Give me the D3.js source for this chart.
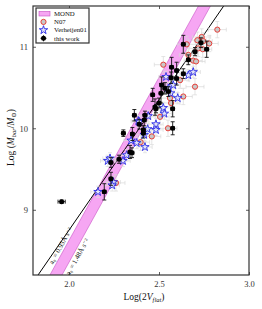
<!DOCTYPE html>
<html>
<head>
<meta charset="utf-8">
<script src="https://cdn.jsdelivr.net/npm/d3@7"></script>
<style>
  body { margin: 0; background: #fff; }
  svg text { font-family: "Liberation Serif", "DejaVu Serif", serif; }
</style>
</head>
<body>
<div id="content"></div>
<script>
// x = log(2 Vflat), y = log(Mbar / Msun)
var workX  = [1.959, 2.196, 2.233, 2.233, 2.278, 2.302, 2.339, 2.352, 2.350, 2.363, 2.390, 2.413, 2.413, 2.418, 2.422, 2.465, 2.478, 2.483, 2.500, 2.511, 2.515, 2.533, 2.552, 2.567, 2.570, 2.576, 2.576, 2.598, 2.598, 2.635, 2.663, 2.635, 2.700, 2.733, 2.765];
var workY  = [9.10, 9.22, 9.38, 9.58, 9.62, 9.94, 9.71, 9.93, 9.70, 10.16, 10.05, 9.98, 9.94, 10.10, 10.16, 10.41, 10.26, 10.24, 10.31, 10.43, 10.53, 10.49, 10.45, 10.62, 10.75, 10.24, 10.00, 10.71, 10.61, 10.67, 10.84, 11.03, 10.94, 11.05, 10.97];
var workEy = [0.02, 0.10, 0.08, 0.06, 0.05, 0.04, 0.08, 0.08, 0.06, 0.07, 0.06, 0.05, 0.06, 0.07, 0.05, 0.08, 0.10, 0.05, 0.06, 0.12, 0.10, 0.07, 0.06, 0.07, 0.12, 0.10, 0.08, 0.10, 0.08, 0.06, 0.06, 0.11, 0.05, 0.06, 0.10];
var workEx = [0.02, 0.01, 0.01, 0.01, 0.01, 0.01, 0.01, 0.01, 0.01, 0.01, 0.01, 0.01, 0.01, 0.01, 0.01, 0.01, 0.01, 0.01, 0.01, 0.01, 0.01, 0.01, 0.01, 0.01, 0.01, 0.01, 0.01, 0.01, 0.01, 0.01, 0.01, 0.01, 0.01, 0.01, 0.01];

var verX = [2.161, 2.215, 2.246, 2.240, 2.320, 2.228, 2.300, 2.345, 2.376, 2.385, 2.390, 2.418, 2.422, 2.437, 2.440, 2.483, 2.483, 2.524, 2.530, 2.552, 2.565, 2.604, 2.539, 2.579, 2.663, 2.690];
var verY = [9.22, 9.60, 9.34, 9.30, 9.67, 9.63, 9.60, 9.85, 9.82, 10.09, 10.08, 9.92, 9.77, 9.99, 10.15, 9.98, 10.05, 10.25, 10.18, 10.49, 10.43, 10.37, 10.63, 10.53, 10.65, 10.69];

var n07X = [2.261, 2.398, 2.460, 2.506, 2.550, 2.567, 2.561, 2.635, 2.824, 2.713, 2.737, 2.746, 2.779, 2.718, 2.743, 2.654, 2.663, 2.690, 2.706, 2.524, 2.700, 2.617];
var n07Y = [9.33, 9.83, 9.90, 10.14, 10.00, 10.31, 10.37, 10.39, 11.21, 11.08, 11.12, 11.07, 11.04, 10.98, 10.97, 11.03, 10.90, 10.83, 10.82, 10.78, 10.51, 10.59];

var xTicks = [2.0, 2.5, 3.0];
var yTicks = [9, 10, 11];

// fitted relation and the MOND band edges (slope 4)
var fitSlope = 3.2, fitIntercept = 2.35;
var mondSlope = 4, mondIntercepts = [0.624, 0.356];
var mondLabels = ['a\u2080 = 0.93\u00C5 s\u207B\u00B2', 'a\u2080 = 1.48\u00C5 s\u207B\u00B2'];

var margin = { top: 6, right: 13, bottom: 34, left: 33 };
var width = 262 - margin.left - margin.right;
var height = 309 - margin.top - margin.bottom;

var x = d3.scaleLinear().domain([1.8, 3.0]).range([0, width]);
var y = d3.scaleLinear().domain([8.2, 11.5]).range([height, 0]);

var svg = d3.select('#content').append('svg')
  .attr('width', 262).attr('height', 309);

svg.append('defs').append('clipPath').attr('id', 'plot')
  .append('rect').attr('width', width).attr('height', height);

var g = svg.append('g').attr('transform', `translate(${margin.left},${margin.top})`);
var plot = g.append('g').attr('clip-path', 'url(#plot)');

// MOND band
var xa = 1.7, xb = 3.1;
var band = [[xa, mondSlope * xa + mondIntercepts[0]], [xb, mondSlope * xb + mondIntercepts[0]],
            [xb, mondSlope * xb + mondIntercepts[1]], [xa, mondSlope * xa + mondIntercepts[1]]];
plot.append('path')
  .attr('d', 'M' + band.map(p => x(p[0]) + ',' + y(p[1])).join('L') + 'Z')
  .attr('fill', '#f6a6f3').attr('stroke', '#c750c4').attr('stroke-width', 0.6);

// fit line
plot.append('line')
  .attr('x1', x(xa)).attr('y1', y(fitSlope * xa + fitIntercept))
  .attr('x2', x(xb)).attr('y2', y(fitSlope * xb + fitIntercept))
  .attr('stroke', '#000').attr('stroke-width', 1);

// band labels
var bandAngle = -Math.atan(mondSlope * (height / 3.3) / (width / 1.2)) * 180 / Math.PI;
var labelY = [8.53, 8.45];
var labelDy = ['-0.35em', '1.0em'];
mondLabels.forEach(function(t, i) {
  var ly = labelY[i];
  var lx = (ly - mondIntercepts[i]) / mondSlope;
  plot.append('text')
    .attr('transform', `translate(${x(lx)},${y(ly)}) rotate(${bandAngle})`)
    .attr('text-anchor', 'middle').attr('dy', labelDy[i])
    .attr('font-size', 7).attr('fill', '#111')
    .text(t);
});

// error bars
function errBars(layer, xs, ys, exs, eys, color, width, cap) {
  xs.forEach(function(xv, i) {
    var ex = exs[i], ey = eys[i];
    var cx = x(xv), cy = y(ys[i]);
    layer.append('line').attr('x1', x(xv - ex)).attr('x2', x(xv + ex)).attr('y1', cy).attr('y2', cy)
      .attr('stroke', color).attr('stroke-width', width);
    layer.append('line').attr('x1', cx).attr('x2', cx).attr('y1', y(ys[i] - ey)).attr('y2', y(ys[i] + ey))
      .attr('stroke', color).attr('stroke-width', width);
    [-1, 1].forEach(function(s) {
      layer.append('line').attr('x1', cx - cap).attr('x2', cx + cap)
        .attr('y1', y(ys[i] + s * ey)).attr('y2', y(ys[i] + s * ey))
        .attr('stroke', color).attr('stroke-width', width);
      layer.append('line').attr('y1', cy - cap).attr('y2', cy + cap)
        .attr('x1', x(xv + s * ex)).attr('x2', x(xv + s * ex))
        .attr('stroke', color).attr('stroke-width', width);
    });
  });
}

var grayLayer = plot.append('g');
errBars(grayLayer, n07X, n07Y, n07X.map(() => 0.05), n07Y.map(() => 0.1), '#d9d9d9', 0.7, 2);
errBars(grayLayer, verX, verY, verX.map(() => 0.04), verY.map(() => 0.07), '#dcdcdc', 0.7, 2);

// N07 circles
plot.append('g').selectAll('circle').data(n07X).enter().append('circle')
  .attr('cx', d => x(d)).attr('cy', (d, i) => y(n07Y[i])).attr('r', 2.6)
  .attr('fill', '#c8c8c8').attr('stroke', '#e8403a').attr('stroke-width', 1);

// Verheijen01 stars
var star = d3.symbol().type(d3.symbolStar).size(22);
plot.append('g').selectAll('path').data(verX).enter().append('path')
  .attr('d', star)
  .attr('transform', (d, i) => `translate(${x(d)},${y(verY[i])})`)
  .attr('fill', '#e2e4f6').attr('stroke', '#2a2ae6').attr('stroke-width', 0.9);

// this work
var workLayer = plot.append('g');
errBars(workLayer, workX, workY, workEx, workEy, '#111', 0.9, 2);
workLayer.selectAll('circle').data(workX).enter().append('circle')
  .attr('cx', d => x(d)).attr('cy', (d, i) => y(workY[i])).attr('r', 2.5)
  .attr('fill', '#000');

// axes
function styleAxis(sel) {
  sel.select('.domain').remove();
  sel.selectAll('.tick line').attr('stroke', '#333').attr('stroke-width', 0.8);
  sel.selectAll('.tick text').attr('font-family', '"Liberation Serif", serif').attr('font-size', 8.5).attr('fill', '#333');
}
g.append('g').attr('transform', `translate(0,${height})`)
  .call(d3.axisBottom(x).tickValues(xTicks).tickFormat(d3.format('.1f')).tickSizeInner(-3).tickSizeOuter(0).tickPadding(6))
  .call(styleAxis);
g.append('g')
  .call(d3.axisTop(x).tickValues(xTicks).tickSizeInner(-3).tickSizeOuter(0).tickFormat(''))
  .call(styleAxis);
g.append('g')
  .call(d3.axisLeft(y).tickValues(yTicks).tickFormat(d3.format('d')).tickSizeInner(-3).tickSizeOuter(0).tickPadding(5))
  .call(styleAxis);
g.append('g').attr('transform', `translate(${width},0)`)
  .call(d3.axisRight(y).tickValues(yTicks).tickSizeInner(-3).tickSizeOuter(0).tickFormat(''))
  .call(styleAxis);

g.append('rect').attr('width', width).attr('height', height)
  .attr('fill', 'none').attr('stroke', '#333').attr('stroke-width', 1.2);

// axis titles
var xt = svg.append('text').attr('x', margin.left + width / 2 + 3).attr('y', 300)
  .attr('text-anchor', 'middle').attr('font-size', 9.5).attr('fill', '#111');
xt.append('tspan').text('Log(2');
xt.append('tspan').attr('font-style', 'italic').text('V');
xt.append('tspan').attr('font-style', 'italic').attr('font-size', 6.5).attr('dy', 2).text('flat');
xt.append('tspan').attr('dy', -2).text(')');

var yt = svg.append('text').attr('transform', `translate(14,${margin.top + height / 2 - 3}) rotate(-90)`)
  .attr('text-anchor', 'middle').attr('font-size', 9.5).attr('fill', '#111');
yt.append('tspan').text('Log (');
yt.append('tspan').attr('font-style', 'italic').text('M');
yt.append('tspan').attr('font-style', 'italic').attr('font-size', 6.5).attr('dy', 2).text('bar');
yt.append('tspan').attr('dy', -2).text('/');
yt.append('tspan').attr('font-style', 'italic').text('M');
yt.append('tspan').attr('font-size', 6.5).attr('dy', 2).text('\u2299');
yt.append('tspan').attr('dy', -2).text(')');

// legend
var leg = svg.append('g').attr('transform', 'translate(36,8)');
leg.append('rect').attr('width', 53).attr('height', 35)
  .attr('fill', '#fff').attr('stroke', '#333').attr('stroke-width', 1.2);
var legNames = ['MOND', 'N07', 'Verheijen01', 'this work'];
var legRow = d3.scaleLinear().domain([0, 3]).range([5.7, 30.3]);
legNames.forEach(function(name, i) {
  var ry = legRow(i);
  if (i === 0) {
    leg.append('rect').attr('x', 3).attr('y', ry - 2.3).attr('width', 11).attr('height', 4.6)
      .attr('fill', '#f6a6f3').attr('stroke', '#c750c4').attr('stroke-width', 0.6);
  } else if (i === 1) {
    leg.append('circle').attr('cx', 7.5).attr('cy', ry).attr('r', 2.6)
      .attr('fill', '#c8c8c8').attr('stroke', '#e8403a').attr('stroke-width', 1);
  } else if (i === 2) {
    leg.append('path').attr('d', star).attr('transform', `translate(7.5,${ry})`)
      .attr('fill', '#e2e4f6').attr('stroke', '#2a2ae6').attr('stroke-width', 0.9);
  } else {
    leg.append('line').attr('x1', 7.5).attr('x2', 7.5).attr('y1', ry - 3).attr('y2', ry + 3).attr('stroke', '#000').attr('stroke-width', 0.9);
    leg.append('line').attr('x1', 4.5).attr('x2', 10.5).attr('y1', ry).attr('y2', ry).attr('stroke', '#000').attr('stroke-width', 0.9);
    leg.append('circle').attr('cx', 7.5).attr('cy', ry).attr('r', 2.5).attr('fill', '#000');
  }
  leg.append('text').attr('x', 18).attr('y', ry).attr('dy', '0.35em')
    .attr('font-size', 6.8).attr('fill', '#111').text(name);
});
</script>
</body>
</html>
